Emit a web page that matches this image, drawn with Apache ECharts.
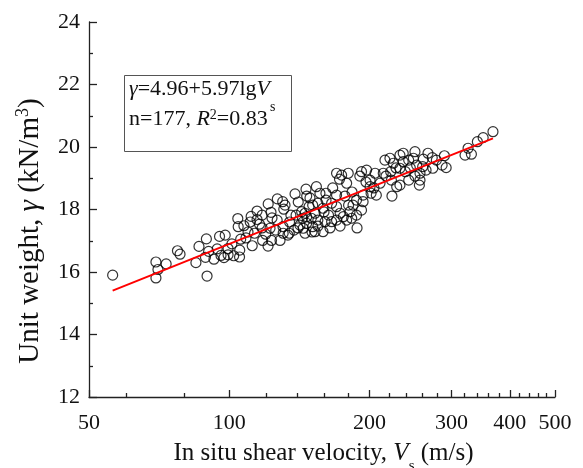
<!DOCTYPE html>
<html><head><meta charset="utf-8">
<script src="https://cdn.jsdelivr.net/npm/echarts@6/dist/echarts.min.js"></script>
<style>html,body{margin:0;padding:0;background:#fff}#c{width:583px;height:468px}</style>
</head><body><div id="c"></div>
<script>
// In situ shear velocity Vs (m/s)
const vs = [56.2,69.6,70.3,69.6,73.2,77.4,78.4,84.8,86.1,89.3,89.6,88.9,90.3,92.7,95.3,98.0,96.0,97.4,99.4,99.4,
102.2,105.2,105.3,105.8,104.3,104.5,107.5,112.0,113.3,111.4,114.7,114.7,116.1,117.9,119.7,122.3,123.2,121.2,122.9,126.8,
130.2,130.9,126.7,130.4,130.5,134.5,135.6,133.6,138.4,140.6,146.1,146.6,143.0,143.6,141.8,145.4,137.7,146.6,128.5,
153.8,156.5,161.2,151.0,154.9,158.9,152.8,148.3,145.4,150.0,154.9,146.6,144.1,151.0,152.8,158.9,160.5,165.8,169.9,163.3,
165.8,169.9,172.9,175.7,180.3,181.6,183.1,178.6,187.5,192.2,193.7,193.7,201.5,206.8,200.5,200.5,192.2,190.6,197.1,205.5,
214.0,222.0,215.8,221.2,224.9,232.4,236.2,236.2,232.4,228.7,210.6,169.9,174.2,180.0,178.6,172.4,368.0,350.6,340.7,325.4,
320.6,330.8,289.5,286.2,292.0,273.4,272.6,266.9,260.9,260.0,256.6,256.6,255.8,250.3,248.3,252.4,242.7,242.7,238.7,232.4,
222.8,109.7,117.6,125.8,134.7,139.1,149.0,161.3,166.7,183.4,187.5,196.5,204.4,216.9,227.9,244.6,264.4,278.2,155.0,164.5,
172.9,123.5,131.7,108.6,101.3,94.2,121.1,169.9,177.1,223.4,188.0,250.3,140.4,150.5,117.6,110.9,159.7,184.3];
// Unit weight gamma (kN/m3)
const gamma = [15.90,16.32,16.08,15.81,16.26,16.68,16.57,16.30,16.82,17.06,15.87,16.47,16.66,16.41,17.14,17.18,16.53,16.46,16.75,16.55,
16.52,16.48,16.70,17.05,17.71,17.45,17.48,16.84,17.24,17.78,17.95,17.68,17.53,17.01,17.21,17.40,17.01,18.18,17.91,18.34,
18.25,18.01,17.66,17.45,17.24,17.24,17.82,17.18,18.50,18.24,18.65,18.43,17.93,17.72,17.50,17.24,17.34,17.77,17.01,
18.73,18.52,18.52,18.14,18.20,18.04,17.88,18.09,17.88,17.72,17.66,17.56,17.40,17.45,17.29,17.29,17.61,17.61,17.66,17.82,
18.20,18.09,17.88,17.77,18.14,17.93,17.72,17.66,17.82,17.98,18.25,18.46,18.52,18.46,18.73,18.94,19.21,19.07,19.26,19.16,
19.16,19.21,19.58,19.64,19.48,19.74,19.80,19.53,19.32,18.73,18.84,19.16,19.10,19.16,18.84,18.97,20.49,20.30,20.17,19.96,
19.74,19.77,19.72,19.42,19.34,19.32,19.66,19.80,19.61,19.37,19.16,18.94,18.78,19.85,19.64,19.42,19.58,18.94,19.21,18.78,
18.94,17.28,17.41,17.34,17.60,17.82,18.37,18.30,18.69,18.56,18.30,18.88,18.69,19.07,19.33,19.33,19.26,19.58,17.47,17.41,
17.47,17.73,18.14,17.09,16.90,16.74,16.83,18.46,18.43,18.43,17.41,19.07,17.41,17.28,17.82,17.60,17.92,18.14];
// regression: gamma = fitA + fitB * lg(Vs)
const fitA = 4.96, fitB = 5.97;
const xMajorTicks = [50, 100, 200, 300, 400, 500];
const xMinorTicks = [60, 80, 120, 140, 160, 180, 220, 240, 260, 280, 320, 340, 360, 380, 420, 440, 460, 480];
const yMin = 12, yMax = 24, yStep = 2;

const FONT = '"Liberation Serif","Times New Roman",serif';
const TXT = '#111';
const chart = echarts.init(document.getElementById('c'), null, {renderer: 'canvas'});
const pts = vs.map((v, i) => [v, gamma[i]]);
const xLo = Math.min(...vs), xHi = Math.max(...vs);
const fitLine = [xLo, xHi].map(v => [v, fitA + fitB * Math.log10(v)]);

const gridRect = {left: 89, right: 28, top: 22, bottom: 71};
const axisColor = '#222';
const base = {fontFamily: FONT, color: TXT};

chart.setOption({
  animation: false,
  backgroundColor: '#fff',
  grid: [Object.assign({}, gridRect), Object.assign({}, gridRect)],
  xAxis: [{
    type: 'log', logBase: 10, min: 50, max: 500, gridIndex: 0,
    axisLine: {lineStyle: {color: axisColor, width: 1.3}},
    axisTick: {inside: true, length: 7, customValues: xMajorTicks, lineStyle: {color: axisColor, width: 1.3}},
    axisLabel: Object.assign({customValues: xMajorTicks, fontSize: 22, margin: 15}, base),
    splitLine: {show: false}
  }, {
    type: 'log', logBase: 10, min: 50, max: 500, gridIndex: 1,
    axisLine: {show: false},
    axisTick: {inside: true, length: 4, customValues: xMinorTicks, lineStyle: {color: axisColor, width: 1.3}},
    axisLabel: {show: false},
    splitLine: {show: false}
  }],
  yAxis: [{
    type: 'value', min: yMin, max: yMax, interval: yStep, gridIndex: 0,
    axisLine: {show: true, lineStyle: {color: axisColor, width: 1.3}},
    axisTick: {show: true, inside: true, length: 8, lineStyle: {color: axisColor, width: 1.3}},
    minorTick: {show: true, splitNumber: 2, length: 4, lineStyle: {color: axisColor, width: 1.3}},
    axisLabel: Object.assign({fontSize: 22, margin: 9}, base),
    splitLine: {show: false}
  }, {
    type: 'value', min: yMin, max: yMax, gridIndex: 1, show: false
  }],
  series: [{
    type: 'scatter', data: pts, xAxisIndex: 0, yAxisIndex: 0,
    symbol: 'circle', symbolSize: 10,
    itemStyle: {color: 'rgba(255,255,255,0)', borderColor: '#000', borderWidth: 1.2},
    z: 2
  }, {
    type: 'line', data: fitLine, xAxisIndex: 0, yAxisIndex: 0,
    showSymbol: false, symbol: 'none',
    lineStyle: {color: '#ff0000', width: 2},
    z: 3
  }],
  graphic: [
    {type: 'rect', shape: {x: 124.5, y: 75.5, width: 167, height: 76}, style: {fill: 'none', stroke: '#555', lineWidth: 1}},
    {type: 'text', x: 129, y: 89.5, style: {
      text: '{gi|γ}{n|=4.96+5.97lg}{vi|V}{sub|s}', align: 'left', verticalAlign: 'middle',
      rich: {
        n: {fontFamily: FONT, fontSize: 22, fill: TXT},
        gi: {fontFamily: FONT, fontSize: 22, fontStyle: 'italic', fill: TXT},
        vi: {fontFamily: FONT, fontSize: 22, fontStyle: 'italic', fill: TXT},
        sub: {fontFamily: FONT, fontSize: 14, fill: TXT, padding: [35, 0, 0, 0]}
      }}},
    {type: 'text', x: 129, y: 119.5, style: {
      text: '{n|n=177, }{ri|R}{sup|2}{n|=0.83}', align: 'left', verticalAlign: 'middle',
      rich: {
        n: {fontFamily: FONT, fontSize: 22, fill: TXT},
        ri: {fontFamily: FONT, fontSize: 22, fontStyle: 'italic', fill: TXT},
        sup: {fontFamily: FONT, fontSize: 14, fill: TXT, padding: [0, 0, 9, 0]}
      }}},
    {type: 'text', x: 30, y: 231, rotation: Math.PI / 2, style: {
      text: '{n|Unit weight, }{gi|γ}{n| (kN/m}{sup|3}{n|)}', align: 'center', verticalAlign: 'middle',
      rich: {
        n: {fontFamily: FONT, fontSize: 29, fill: TXT},
        gi: {fontFamily: FONT, fontSize: 29, fontStyle: 'italic', fill: TXT},
        sup: {fontFamily: FONT, fontSize: 18, fill: TXT, padding: [0, 0, 13, 0]}
      }}},
    {type: 'text', x: 323.5, y: 453, style: {
      text: '{n|In situ shear velocity, }{vi|V}{sub|s}{n| (m/s)}', align: 'center', verticalAlign: 'middle',
      rich: {
        n: {fontFamily: FONT, fontSize: 25, fill: TXT},
        vi: {fontFamily: FONT, fontSize: 25, fontStyle: 'italic', fill: TXT},
        sub: {fontFamily: FONT, fontSize: 15, fill: TXT, padding: [27, 0, 0, 0]}
      }}}
  ]
});
</script></body></html>
